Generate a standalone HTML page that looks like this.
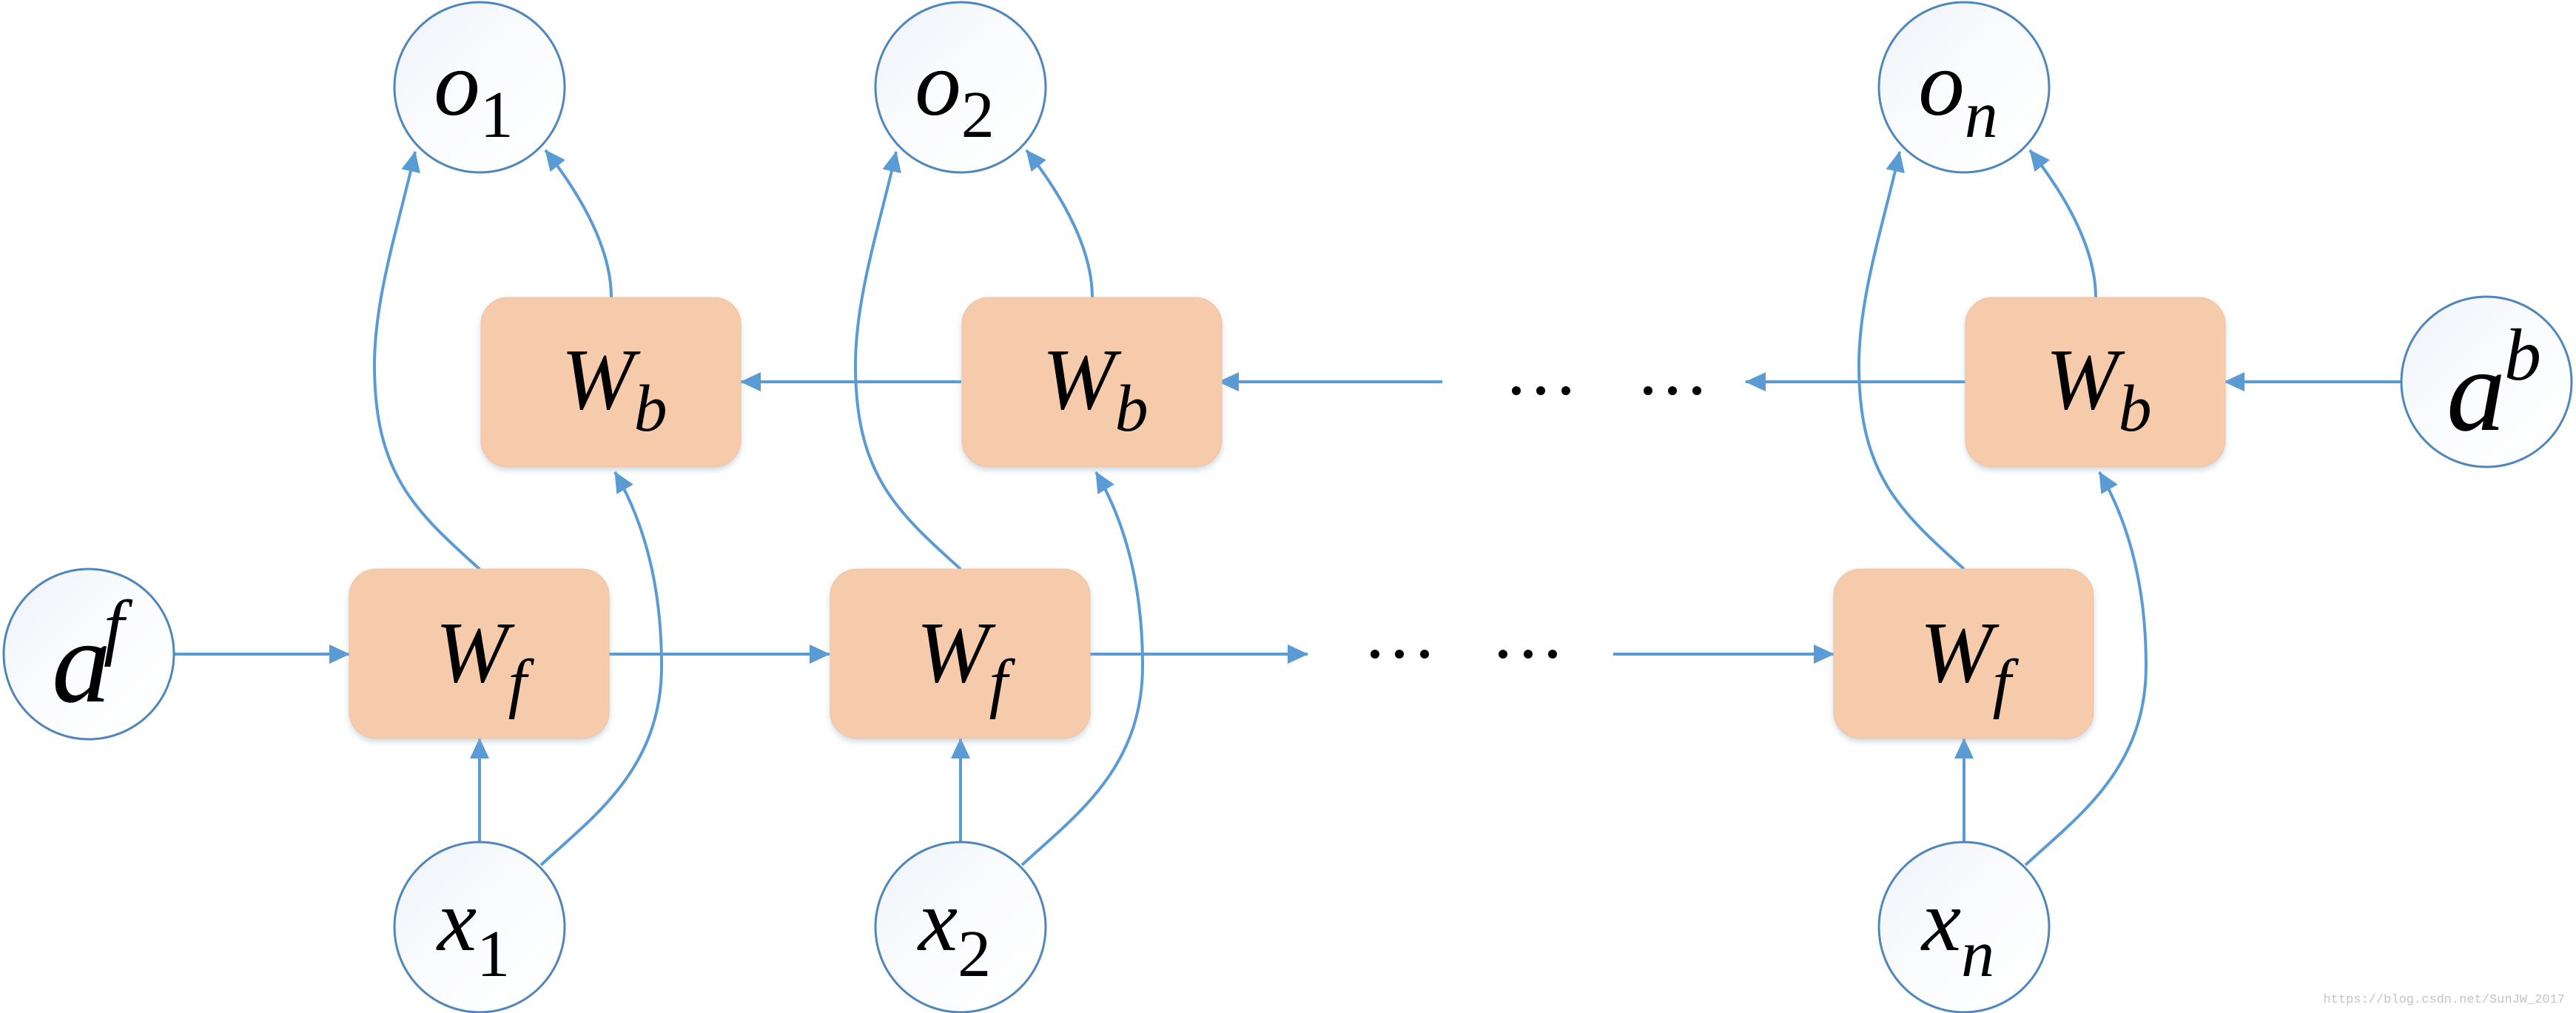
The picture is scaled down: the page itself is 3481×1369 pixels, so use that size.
<!DOCTYPE html>
<html><head><meta charset="utf-8"><style>
html,body{margin:0;padding:0;background:#fff;}
svg{display:block;}
</style></head><body>
<svg width="3481" height="1369" viewBox="0 0 3481 1369" xmlns="http://www.w3.org/2000/svg">
<defs>
<marker id="a" viewBox="0 0 28 26" refX="27" refY="13" markerWidth="28" markerHeight="26" markerUnits="userSpaceOnUse" orient="auto">
<path d="M0,0 L28,13 L0,26 Z" fill="#5b9bd5"/>
</marker>
<linearGradient id="cg" x1="0" y1="0" x2="1" y2="1">
<stop offset="0" stop-color="#eef2f8"/><stop offset="0.5" stop-color="#fbfcfe"/><stop offset="1" stop-color="#ffffff"/>
</linearGradient>
<filter id="sh" x="-10%" y="-10%" width="120%" height="130%">
<feDropShadow dx="0" dy="4" stdDeviation="4" flood-color="#a0b4c8" flood-opacity="0.5"/>
</filter>
</defs>
<g stroke="#5b9bd5" stroke-width="4" fill="none" marker-end="url(#a)">
<line x1="234" y1="884" x2="472" y2="884"/>
<line x1="823" y1="884" x2="1121" y2="884"/>
<line x1="1472" y1="884" x2="1767" y2="884"/>
<line x1="2180" y1="884" x2="2478" y2="884"/>
<line x1="3246" y1="516" x2="3006" y2="516"/>
<line x1="2656" y1="516" x2="2359" y2="516"/>
<line x1="1949" y1="516" x2="1647" y2="516"/>
<line x1="1299" y1="516" x2="1001" y2="516"/>
</g>
<g id="col1" stroke="#5b9bd5" stroke-width="4" fill="none" marker-end="url(#a)">
<line x1="648" y1="1138" x2="648" y2="998"/>
<path d="M648,769 C560,690 506,640 506,493 C506,400 540,300 561,205"/>
<path d="M826,402 C826,340 790,270 737,203"/>
<path d="M731,1169 C800,1105 894,1040 894,900 C894,790 870,705 831,638"/>
</g>
<use href="#col1" x="650"/>
<use href="#col1" x="2006"/>
<g fill="#f5cbab" stroke="#f0c4a2" stroke-width="1" filter="url(#sh)">
<rect x="472" y="769" width="351" height="229" rx="36"/>
<rect x="1122" y="769" width="351" height="229" rx="36"/>
<rect x="2478" y="769" width="351" height="229" rx="36"/>
<rect x="650" y="402" width="351" height="229" rx="36"/>
<rect x="1300" y="402" width="351" height="229" rx="36"/>
<rect x="2656" y="402" width="351" height="229" rx="36"/>
</g>
<g fill="url(#cg)" stroke="#4f86bb" stroke-width="3">
<circle cx="648" cy="118" r="115"/>
<circle cx="1298" cy="118" r="115"/>
<circle cx="2654" cy="118" r="115"/>
<circle cx="648" cy="1253" r="115"/>
<circle cx="1298" cy="1253" r="115"/>
<circle cx="2654" cy="1253" r="115"/>
<circle cx="120" cy="884" r="115"/>
<circle cx="3360" cy="516" r="115"/>
</g>
<g font-family="'Liberation Serif','DejaVu Serif',serif" font-style="italic" fill="#000">
<text x="640" y="155" font-size="125" text-anchor="middle">o<tspan font-style="normal" font-size="90" dy="30">1</tspan></text>
<text x="1290" y="155" font-size="125" text-anchor="middle">o<tspan font-style="normal" font-size="90" dy="30">2</tspan></text>
<text x="2646" y="155" font-size="125" text-anchor="middle">o<tspan font-size="90" dy="30">n</tspan></text>
<text x="640" y="1284" font-size="120" text-anchor="middle">x<tspan font-style="normal" font-size="90" dy="35">1</tspan></text>
<text x="1290" y="1284" font-size="120" text-anchor="middle">x<tspan font-style="normal" font-size="90" dy="35">2</tspan></text>
<text x="2646" y="1284" font-size="120" text-anchor="middle">x<tspan font-size="90" dy="35">n</tspan></text>
<text x="650" y="921" font-size="118" text-anchor="middle">W<tspan font-size="90" dy="32">f</tspan></text>
<text x="1300" y="921" font-size="118" text-anchor="middle">W<tspan font-size="90" dy="32">f</tspan></text>
<text x="2656" y="921" font-size="118" text-anchor="middle">W<tspan font-size="90" dy="32">f</tspan></text>
<text x="830" y="552" font-size="118" text-anchor="middle">W<tspan font-size="90" dy="30">b</tspan></text>
<text x="1480" y="552" font-size="118" text-anchor="middle">W<tspan font-size="90" dy="30">b</tspan></text>
<text x="2836" y="552" font-size="118" text-anchor="middle">W<tspan font-size="90" dy="30">b</tspan></text>
<text x="70" y="948" font-size="160">a</text>
<text x="140" y="880" font-size="100">f</text>
<text x="3306" y="581" font-size="160">a</text>
<text x="3384" y="513" font-size="100">b</text>
</g>
<g fill="#000">
<circle cx="1858" cy="884" r="6"/><circle cx="1891" cy="884" r="6"/><circle cx="1925" cy="884" r="6"/>
<circle cx="2031" cy="884" r="6"/><circle cx="2065" cy="884" r="6"/><circle cx="2098" cy="884" r="6"/>
<circle cx="2049" cy="528" r="6"/><circle cx="2082" cy="528" r="6"/><circle cx="2116" cy="528" r="6"/>
<circle cx="2227" cy="528" r="6"/><circle cx="2260" cy="528" r="6"/><circle cx="2293" cy="528" r="6"/>
</g>
<text x="3466" y="1355" font-size="17" text-anchor="end" fill="#c4c4c4" font-family="'Liberation Mono',monospace">https://blog.csdn.net/SunJW_2017</text>
</svg>
</body></html>
